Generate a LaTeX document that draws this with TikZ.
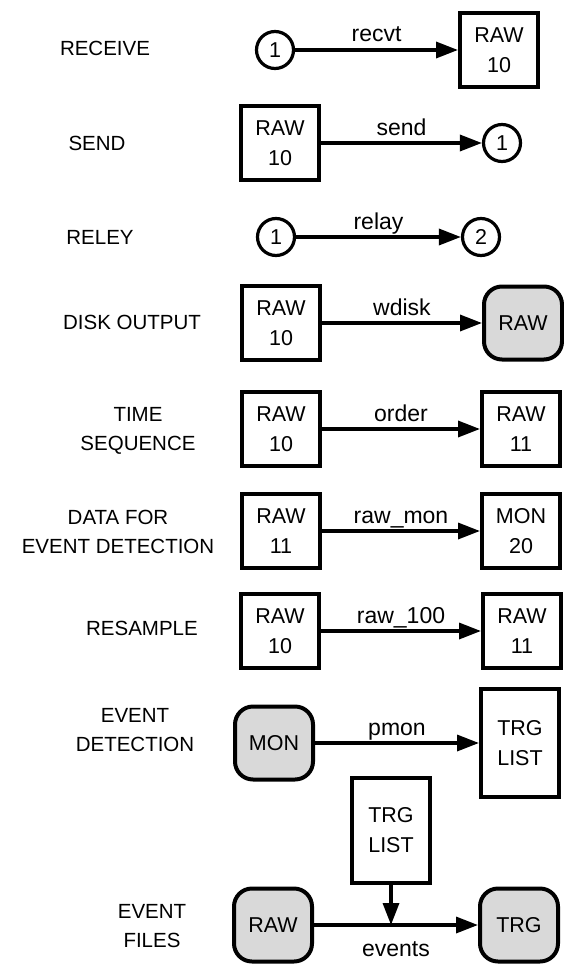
\documentclass[tikz,border=0pt]{standalone}
\usepackage{fontspec}
\setmainfont{Liberation Sans}
\usetikzlibrary{positioning, calc, arrows.meta}

\newcommand{\boxfont}{\fontsize{21.5}{30}\selectfont}
\newcommand{\taskfont}{\fontsize{20.5}{29}\selectfont}
\newcommand{\flowfont}{\fontsize{23}{27}\selectfont}

\begin{document}
\begin{tikzpicture}[x=1pt, y=-1pt,
buffer/.style={rectangle, draw, line width=4pt, minimum width=78pt, minimum height=74pt, align=center, font=\boxfont, inner sep=0pt},
disk/.style={rectangle, draw, line width=4pt, rounded corners=18pt, fill=gray!30, minimum width=78pt, minimum height=73pt, align=center, font=\boxfont, inner sep=0pt},
port/.style={circle, draw, line width=3.2pt, minimum size=37pt, inner sep=0pt, font=\boxfont},
task/.style={align=center, font=\taskfont},
flow/.style={-{Triangle[length=22pt, width=16pt]}, line width=3.4pt},
flowlabel/.style={anchor=base, yshift=8pt, font=\flowfont}
]
\useasboundingbox (0,0) rectangle (564,966);

% Receive
\node[task] (receive) at (105,48) {RECEIVE};
\node[port] (recv_in) at (275,50) {1};
\node[buffer] (recv_raw) at (499,50) {RAW\\10};
\draw[flow] (recv_in) -- node[flowlabel] {recvt} (recv_raw);

% Send
\node[task] (send) at (97,143) {SEND};
\node[buffer] (send_raw) at (280,143) {RAW\\10};
\node[port] (send_out) at (502,143) {1};
\draw[flow] (send_raw) -- node[flowlabel] {send} (send_out);

% Relay
\node[task] (relay) at (100,237) {RELEY};
\node[port] (relay_in) at (276,237) {1};
\node[port] (relay_out) at (481,237) {2};
\draw[flow] (relay_in) -- node[flowlabel] {relay} (relay_out);

% Disk output
\node[task] (diskout) at (132,322) {DISK OUTPUT};
\node[buffer] (disk_raw) at (281,323) {RAW\\10};
\node[disk] (disk_file) at (523,323) {RAW};
\draw[flow] (disk_raw) -- node[flowlabel] {wdisk} (disk_file);

% Time sequence
\node[task] (timeseq) at (138,431) {TIME\\SEQUENCE};
\node[buffer] (order_in) at (281,429) {RAW\\10};
\node[buffer] (order_out) at (521,429) {RAW\\11};
\draw[flow] (order_in) -- node[flowlabel] {order} (order_out);

% Data for event detection
\node[task] (mondata) at (118,532) {DATA FOR\\EVENT DETECTION};
\node[buffer] (mon_in) at (281,531) {RAW\\11};
\node[buffer] (mon_out) at (521,531) {MON\\20};
\draw[flow] (mon_in) -- node[flowlabel] {raw\_mon} (mon_out);

% Resample
\node[task] (resample) at (142,628) {RESAMPLE};
\node[buffer] (res_in) at (280,631) {RAW\\10};
\node[buffer] (res_out) at (522,631) {RAW\\11};
\draw[flow] (res_in) -- node[flowlabel] {raw\_100} (res_out);

% Event detection
\node[task] (evdetect) at (135,730) {EVENT\\DETECTION};
\node[disk] (det_mon) at (274,743) {MON};
\node[buffer, minimum height=108pt] (det_trg) at (520,743) {TRG\\LIST};
\draw[flow] (det_mon) -- node[flowlabel] {pmon} (det_trg);

% Event files
\node[task] (evfiles) at (152,926) {EVENT\\FILES};
\node[disk] (ev_raw) at (273,925) {RAW};
\node[disk] (ev_trg) at (519,925) {TRG};
\node[buffer, minimum height=105pt] (ev_list) at (391,830) {TRG\\LIST};
\coordinate (ev_join) at (ev_list |- ev_raw);
\draw[flow] (ev_raw) -- node[flowlabel, yshift=-39pt] {events} (ev_trg);
\draw[flow] (ev_list) -- (ev_join);

\end{tikzpicture}
\end{document}
